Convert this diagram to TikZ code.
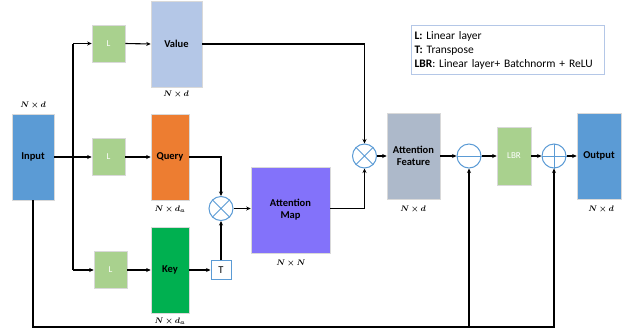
\documentclass[tikz,border=0pt]{standalone}
\usepackage{fontspec}
\usepackage{amsmath,bm}
\setmainfont{Carlito}
\usetikzlibrary{arrows.meta}
\definecolor{cblue}{HTML}{5B9BD5}
\definecolor{cval}{HTML}{B4C7E7}
\definecolor{cq}{HTML}{ED7D31}
\definecolor{ck}{HTML}{00B050}
\definecolor{cl}{HTML}{A9D18E}
\definecolor{cmap}{HTML}{8372FA}
\definecolor{caf}{HTML}{ADB9CA}
\definecolor{cbord}{HTML}{D9D9D9}
\begin{document}
\begin{tikzpicture}[x=1pt,y=-1pt,
  box/.style={draw=cbord,line width=0.6pt,inner sep=0pt,font=\bfseries\fontsize{10.5}{12}\selectfont,align=center},
  lbox/.style={box,fill=cl,text=white,font=\fontsize{9}{10}\selectfont},
  op/.style={circle,draw=cblue,line width=1pt,minimum size=24pt,inner sep=0pt},
  dim/.style={font=\fontsize{8.5}{9}\selectfont},
  conn/.style={line width=1.1pt,-{Stealth[length=4.5pt,width=4pt]}},
  plain/.style={line width=1.1pt}]
\useasboundingbox (0,0) rectangle (629,330);
% boxes
\node[box,fill=cblue,minimum width=42pt,minimum height=86pt] (in) at (33,157) {Input};
\node[lbox,minimum width=33pt,minimum height=37pt] (l1) at (108.5,43.5) {L};
\node[lbox,minimum width=33pt,minimum height=37pt] (l2) at (108.5,157) {L};
\node[lbox,minimum width=33pt,minimum height=37pt] (l3) at (110.5,270) {L};
\node[box,fill=cval,minimum width=51pt,minimum height=86pt] (val) at (176.5,44) {Value};
\node[box,fill=cq,minimum width=38pt,minimum height=86pt] (q) at (170,157) {Query};
\node[box,fill=ck,minimum width=38pt,minimum height=86pt] (k) at (170,270) {Key};
\node[draw=cblue,line width=1pt,minimum width=20pt,minimum height=19pt,inner sep=0pt,font=\fontsize{10.5}{11}\selectfont] (t) at (221,270) {T};
\node[op] (m1) at (221,208.5) {};
\node[box,fill=cmap,minimum width=79pt,minimum height=86pt] (map) at (290.5,210) {Attention\\Map};
\node[op] (m2) at (364.5,156) {};
\node[box,fill=caf,minimum width=53pt,minimum height=86pt] (af) at (413.5,156) {Attention\\Feature};
\node[op] (sub) at (469,156) {};
\node[lbox,minimum width=34pt,minimum height=58pt] (lbr) at (514,156) {LBR};
\node[op] (add) at (554,156) {};
\node[box,fill=cblue,minimum width=44pt,minimum height=86pt] (out) at (599,156) {Output};
% operator symbols
\draw[cblue,line width=1pt] (m1.north west)--(m1.south east) (m1.north east)--(m1.south west);
\draw[cblue,line width=1pt] (m2.north west)--(m2.south east) (m2.north east)--(m2.south west);
\draw[cblue,line width=1pt] (sub.west)--(sub.east);
\draw[cblue,line width=1pt] (add.west)--(add.east) (add.north)--(add.south);
% dimension labels
\node[dim] (din) at (33,105) {$\bm{N\times d}$};
\node[dim] (dval) at (176,94) {$\bm{N\times d}$};
\node[dim] (dq) at (170,209) {$\bm{N\times d_a}$};
\node[dim] (dk) at (170,321) {$\bm{N\times d_a}$};
\node[dim] (dmap) at (291,263) {$\bm{N\times N}$};
\node[dim] (daf) at (413,209) {$\bm{N\times d}$};
\node[dim] (dout) at (601,209) {$\bm{N\times d}$};
% legend
\node[draw=cval,line width=1pt,anchor=north west,minimum width=193pt,minimum height=49pt,text width=187pt,inner sep=3pt,align=left,font=\fontsize{11.5}{14}\selectfont] (leg) at (411,25) {\textbf{L:} Linear layer\\\textbf{T:} Transpose\\\textbf{LBR}: Linear layer+ Batchnorm + ReLU};
% connectors
\coordinate (bt) at (73,43.5);
\coordinate (bb) at (73,270);
\draw[conn] (in.east) -- (l2.west);
\draw[plain] (bt) -- (bb);
\draw[conn] (bt) -- (l1.west);
\draw[conn] (bb) -- (l3.west);
\draw[conn] (l1.east) -- (val.west);
\draw[conn] (l2.east) -- (q.west);
\draw[conn] (l3.east) -- (k.west);
\draw[conn] (val.east) -| (m2.north);
\draw[conn] (q.east) -| (m1.north);
\draw[conn] (k.east) -- (t.west);
\draw[conn] (t.north) -- (m1.south);
\draw[conn] (m1.east) -- (map.west |- m1.east);
\draw[conn] (map.east |- m1.east) -| (m2.south);
\draw[conn] (m2.east) -- (af.west);
\draw[conn] (af.east) -- (sub.west);
\draw[conn] (sub.east) -- (lbr.west);
\draw[conn] (lbr.east) -- (add.west);
\draw[conn] (add.east) -- (out.west);
\coordinate (bot) at (33,327);
\coordinate (bsub) at (469,327);
\draw[plain] (in.south) -- (bot) -- (bsub);
\draw[conn] (bsub) -- (sub.south);
\draw[conn] (bsub) -| (add.south);
\end{tikzpicture}
\end{document}
